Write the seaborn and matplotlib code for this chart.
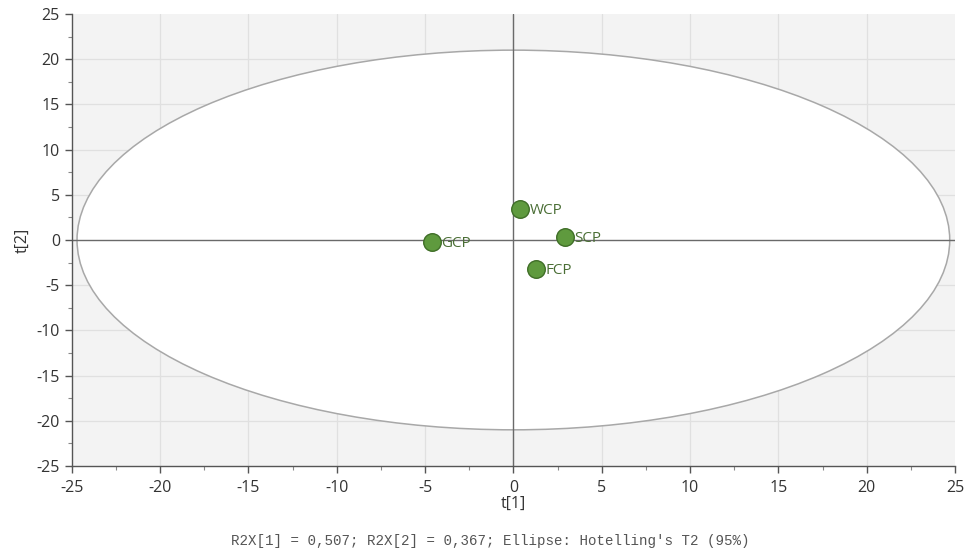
import matplotlib
matplotlib.use("Agg")
import matplotlib.pyplot as plt
from matplotlib.patches import Ellipse
from matplotlib.ticker import MultipleLocator
import pandas as pd
import seaborn as sns

# PCA scores
samples = ["WCP", "GCP", "SCP", "FCP"]
t1 = [0.4, -4.6, 2.95, 1.3]
t2 = [3.45, -0.2, 0.35, -3.2]

# Hotelling's T2 (95%) ellipse semi-axes
ellipse_a = 24.7
ellipse_b = 21.0

ticks = [-25, -20, -15, -10, -5, 0, 5, 10, 15, 20, 25]
subtitle = "R2X[1] = 0,507; R2X[2] = 0,367; Ellipse: Hotelling's T2 (95%)"

df = pd.DataFrame({"sample": samples, "t1": t1, "t2": t2})

sns.set_theme(style="ticks")
plt.rcParams["font.family"] = ["Open Sans", "DejaVu Sans"]
plt.rcParams["axes.unicode_minus"] = False

fig = plt.figure(figsize=(9.68, 5.55), dpi=100)
ax = fig.add_axes([0.0741, 0.1604, 0.9125, 0.8144])
ax.set_facecolor("#f3f3f3")

ax.add_patch(Ellipse((0, 0), 2 * ellipse_a, 2 * ellipse_b, facecolor="white",
                     edgecolor="#a8a8a8", linewidth=1.1, zorder=1))

for v in ticks[1:-1]:
    ax.axhline(v, color="#e0e0e0", linewidth=0.9, zorder=0.5)
    ax.axvline(v, color="#e0e0e0", linewidth=0.9, zorder=0.5)
ax.axhline(0, color="#6a6a6a", linewidth=1.0, zorder=2)
ax.axvline(0, color="#6a6a6a", linewidth=1.0, zorder=2)

sns.scatterplot(data=df, x="t1", y="t2", ax=ax, s=160, color="#5f9a3e",
                edgecolor="#3f6e27", linewidth=1.0, zorder=3, legend=False)
for name, x, y in zip(samples, t1, t2):
    ax.annotate(name, (x, y), xytext=(6.5, -1), textcoords="offset points",
                ha="left", va="center", fontsize=11, color="#4a6e35", zorder=4)

ax.set_xlim(-25, 25)
ax.set_ylim(-25, 25)
ax.set_xticks(ticks)
ax.set_yticks(ticks)
ax.xaxis.set_minor_locator(MultipleLocator(2.5))
ax.yaxis.set_minor_locator(MultipleLocator(2.5))
ax.tick_params(axis="both", which="major", length=5, width=1, color="#555555",
               labelsize=11.5, labelcolor="#333333")
ax.tick_params(axis="x", which="major", pad=5)
ax.tick_params(axis="both", which="minor", length=3, width=0.8, color="#888888")
for side in ["top", "right"]:
    ax.spines[side].set_visible(False)
for side in ["left", "bottom"]:
    ax.spines[side].set_color("#555555")
    ax.spines[side].set_linewidth(1.0)

ax.set_xlabel("t[1]", fontsize=11.5, color="#333333", labelpad=0)
ax.set_ylabel("t[2]", fontsize=11.5, color="#333333", labelpad=4)

fig.text(0.506, 0.012, subtitle, ha="center", va="bottom",
         fontsize=10.2, color="#555555", family=["Liberation Mono", "DejaVu Sans Mono"])

fig.savefig("out.png", dpi=100)
